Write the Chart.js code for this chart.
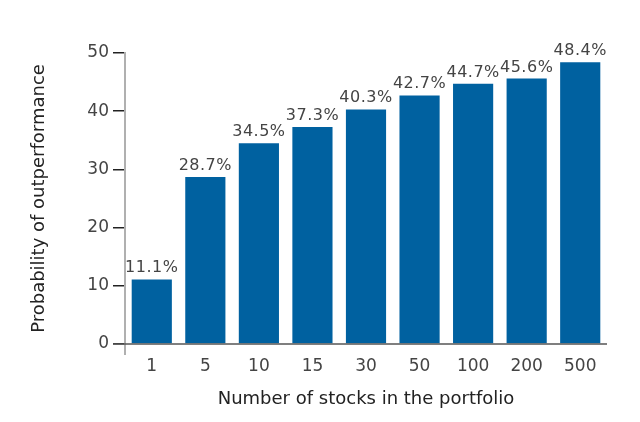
<!DOCTYPE html>
<html>
<head>
<meta charset="utf-8">
<script src="https://cdn.jsdelivr.net/npm/chart.js@4/dist/chart.umd.min.js"></script>
<style>
  html, body { margin: 0; padding: 0; background: #fff; }
  #wrap { width: 640px; height: 422px; }
</style>
</head>
<body>
<div id="wrap"><canvas id="chart" width="640" height="422"></canvas></div>
<script>
const categories = ["1", "5", "10", "15", "30", "50", "100", "200", "500"];
const probability = [11.1, 28.7, 34.5, 37.3, 40.3, 42.7, 44.7, 45.6, 48.4];
const yTicks = [0, 10, 20, 30, 40, 50];

const barColor = "#0061a0";
const font = "'DejaVu Sans', sans-serif";

// percent labels above each bar
const valueLabels = {
  id: "valueLabels",
  afterDatasetsDraw(chart) {
    const ctx = chart.ctx;
    const meta = chart.getDatasetMeta(0);
    ctx.save();
    ctx.fillStyle = "#444";
    ctx.font = "16px " + font;
    ctx.letterSpacing = "0.5px";
    ctx.textAlign = "center";
    ctx.textBaseline = "alphabetic";
    meta.data.forEach((bar, i) => {
      ctx.fillText(probability[i].toFixed(1) + "%", bar.x, bar.y - 7);
    });
    ctx.restore();
  }
};

// axis lines that cross a little past the origin
const axisLines = {
  id: "axisLines",
  afterDraw(chart) {
    const { ctx, chartArea } = chart;
    const y0 = chart.scales.y.getPixelForValue(0);
    ctx.save();
    ctx.lineWidth = 2;
    ctx.strokeStyle = "#b0b0b0";
    ctx.beginPath();
    ctx.moveTo(chartArea.left, chartArea.top - 1);
    ctx.lineTo(chartArea.left, y0 + 11);
    ctx.stroke();
    ctx.lineWidth = 1.5;
    ctx.strokeStyle = "#555";
    ctx.beginPath();
    ctx.moveTo(chartArea.left - 12, y0);
    ctx.lineTo(chartArea.right, y0);
    ctx.stroke();
    ctx.restore();
  }
};

new Chart(document.getElementById("chart"), {
  type: "bar",
  data: {
    labels: categories,
    datasets: [{
      data: probability,
      backgroundColor: barColor,
      borderWidth: 0,
      barPercentage: 0.75,
      categoryPercentage: 1
    }]
  },
  options: {
    responsive: false,
    animation: false,
    devicePixelRatio: 1,
    layout: { padding: { top: 53, right: 33, bottom: 0, left: 0 } },
    plugins: { legend: { display: false }, tooltip: { enabled: false } },
    scales: {
      x: {
        grid: { display: false, drawTicks: false },
        border: { display: false },
        ticks: { color: "#444", font: { family: font, size: 17 }, padding: 12, maxRotation: 0 },
        title: {
          display: true,
          text: "Number of stocks in the portfolio",
          color: "#222",
          font: { family: font, size: 18 },
          padding: { top: 0, bottom: 12 }
        },
        afterFit(scale) { scale.height = 78; }
      },
      y: {
        min: 0,
        max: 50,
        afterBuildTicks(scale) { scale.ticks = yTicks.map(v => ({ value: v })); },
        grid: {
          drawOnChartArea: false,
          drawTicks: true,
          tickLength: 12,
          color: "#222",
          lineWidth: 1.5
        },
        border: { display: false },
        ticks: { color: "#444", font: { family: font, size: 17 }, padding: 4 },
        title: {
          display: true,
          text: "Probability of outperformance",
          color: "#222",
          font: { family: font, size: 18 },
          padding: { top: 29, bottom: 0 }
        },
        afterFit(scale) { scale.width = 125; }
      }
    }
  },
  plugins: [valueLabels, axisLines]
});
</script>
</body>
</html>
